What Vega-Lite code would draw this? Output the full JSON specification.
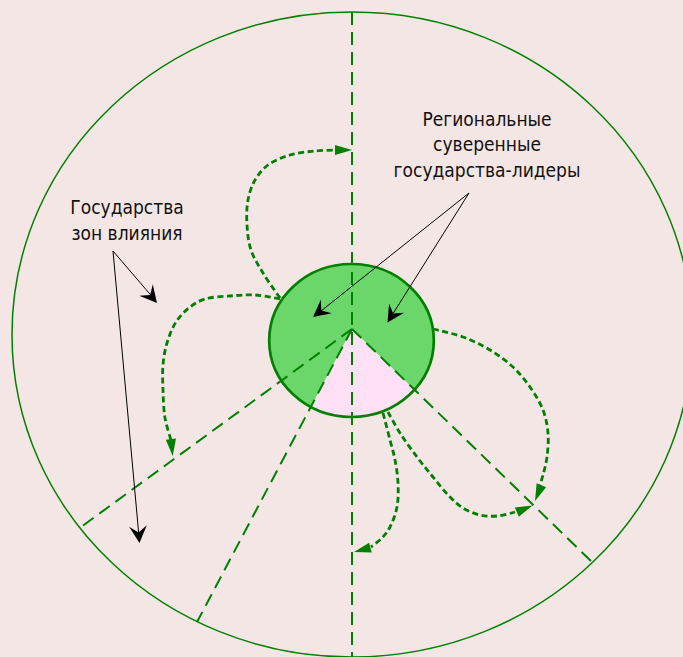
{
  "$schema": "https://vega.github.io/schema/vega-lite/v6.json",
  "width": 683,
  "height": 657,
  "autosize": "none",
  "padding": 0,
  "background": "#f5e6e6",
  "config": {"view": {"stroke": null}},
  "datasets": {
    "big": [{"x": 352, "y": 334.5}],
    "core": [{"x": 351.5, "y": 340.5}],
    "apex": [{"x": 352, "y": 329}],
    "rays": [
      {"id": "v", "i": 0, "x": 352, "y": 12}, {"id": "v", "i": 1, "x": 352, "y": 660},
      {"id": "l", "i": 0, "x": 352, "y": 329}, {"id": "l", "i": 1, "x": 81, "y": 527},
      {"id": "bl", "i": 0, "x": 352, "y": 329}, {"id": "bl", "i": 1, "x": 197, "y": 622},
      {"id": "r", "i": 0, "x": 352, "y": 329}, {"id": "r", "i": 1, "x": 593, "y": 563}
    ],
    "curves": [
      {"id": "a", "i": 0, "x": 280, "y": 298}, {"id": "a", "i": 1, "x": 263, "y": 273}, {"id": "a", "i": 2, "x": 251, "y": 250},
      {"id": "a", "i": 3, "x": 247, "y": 225}, {"id": "a", "i": 4, "x": 248, "y": 200}, {"id": "a", "i": 5, "x": 255, "y": 180},
      {"id": "a", "i": 6, "x": 268, "y": 165}, {"id": "a", "i": 7, "x": 290, "y": 155}, {"id": "a", "i": 8, "x": 315, "y": 151},
      {"id": "a", "i": 9, "x": 337, "y": 150},
      {"id": "b", "i": 0, "x": 280, "y": 299}, {"id": "b", "i": 1, "x": 255, "y": 295}, {"id": "b", "i": 2, "x": 230, "y": 296},
      {"id": "b", "i": 3, "x": 205, "y": 299}, {"id": "b", "i": 4, "x": 190, "y": 307}, {"id": "b", "i": 5, "x": 176, "y": 322},
      {"id": "b", "i": 6, "x": 167, "y": 343}, {"id": "b", "i": 7, "x": 163, "y": 365}, {"id": "b", "i": 8, "x": 163, "y": 390},
      {"id": "b", "i": 9, "x": 165, "y": 418}, {"id": "b", "i": 10, "x": 171, "y": 440},
      {"id": "c", "i": 0, "x": 433, "y": 329}, {"id": "c", "i": 1, "x": 463, "y": 337}, {"id": "c", "i": 2, "x": 490, "y": 350},
      {"id": "c", "i": 3, "x": 513, "y": 367}, {"id": "c", "i": 4, "x": 530, "y": 387}, {"id": "c", "i": 5, "x": 543, "y": 410},
      {"id": "c", "i": 6, "x": 548, "y": 433}, {"id": "c", "i": 7, "x": 547, "y": 457}, {"id": "c", "i": 8, "x": 543, "y": 475},
      {"id": "c", "i": 9, "x": 539, "y": 488},
      {"id": "d", "i": 0, "x": 388, "y": 412}, {"id": "d", "i": 1, "x": 400, "y": 433}, {"id": "d", "i": 2, "x": 417, "y": 457},
      {"id": "d", "i": 3, "x": 433, "y": 477}, {"id": "d", "i": 4, "x": 450, "y": 497}, {"id": "d", "i": 5, "x": 463, "y": 508},
      {"id": "d", "i": 6, "x": 480, "y": 515}, {"id": "d", "i": 7, "x": 497, "y": 516}, {"id": "d", "i": 8, "x": 515, "y": 512},
      {"id": "e", "i": 0, "x": 383, "y": 413}, {"id": "e", "i": 1, "x": 390, "y": 440}, {"id": "e", "i": 2, "x": 395, "y": 460},
      {"id": "e", "i": 3, "x": 398, "y": 483}, {"id": "e", "i": 4, "x": 397, "y": 507}, {"id": "e", "i": 5, "x": 390, "y": 527},
      {"id": "e", "i": 6, "x": 382, "y": 538}, {"id": "e", "i": 7, "x": 371, "y": 547}
    ],
    "gheads": [
      {"x": 352, "y": 150, "angle": 90},
      {"x": 172.7, "y": 456, "angle": 174},
      {"x": 535, "y": 501, "angle": 202},
      {"x": 532.5, "y": 505.5, "angle": 67},
      {"x": 354, "y": 552, "angle": 255}
    ],
    "blines": [
      {"id": 1, "i": 0, "x": 113, "y": 251}, {"id": 1, "i": 1, "x": 155, "y": 300},
      {"id": 2, "i": 0, "x": 113, "y": 251}, {"id": 2, "i": 1, "x": 139.3, "y": 540},
      {"id": 3, "i": 0, "x": 469, "y": 193}, {"id": 3, "i": 1, "x": 316, "y": 315},
      {"id": 4, "i": 0, "x": 469, "y": 193}, {"id": 4, "i": 1, "x": 389, "y": 320}
    ],
    "bheads": [
      {"x": 157, "y": 303, "angle": 139.8},
      {"x": 139.5, "y": 543, "angle": 174.8},
      {"x": 313, "y": 317, "angle": 231.5},
      {"x": 387.5, "y": 322.5, "angle": 212.2}
    ],
    "labels": [
      {"text": "Региональные", "x": 487, "y": 125.7},
      {"text": "суверенные", "x": 487, "y": 151.2},
      {"text": "государства-лидеры", "x": 487, "y": 176.7},
      {"text": "Государства", "x": 127, "y": 214.3},
      {"text": "зон влияния", "x": 127, "y": 239.5}
    ]
  },
  "encoding": {
    "x": {"field": "x", "type": "quantitative", "scale": {"domain": [0, 683], "nice": false, "zero": false}, "axis": null},
    "y": {"field": "y", "type": "quantitative", "scale": {"domain": [0, 657], "nice": false, "zero": false, "reverse": true}, "axis": null}
  },
  "layer": [
    {
      "data": {"name": "big"},
      "mark": {"type": "point", "shape": "M-1,0A1,0.9485,0,1,0,1,0A1,0.9485,0,1,0,-1,0Z", "size": 462400, "filled": false, "stroke": "#008000", "strokeWidth": 1.5, "opacity": 1, "clip": true}
    },
    {
      "data": {"name": "core"},
      "mark": {"type": "point", "shape": "M-1,0A1,0.9295,0,1,0,1,0A1,0.9295,0,1,0,-1,0Z", "size": 27093, "filled": true, "fill": "#6bd76b", "opacity": 1, "strokeWidth": 0}
    },
    {
      "data": {"name": "apex"},
      "mark": {"type": "arc", "outerRadius": 88, "innerRadius": 0, "theta": 2.342, "theta2": 3.629, "fill": "#ffe0f5", "stroke": null}
    },
    {
      "data": {"name": "rays"},
      "mark": {"type": "line", "color": "#008000", "strokeWidth": 2, "strokeDash": [13, 7], "clip": true},
      "encoding": {"detail": {"field": "id"}, "order": {"field": "i", "type": "quantitative"}}
    },
    {
      "data": {"name": "core"},
      "mark": {"type": "point", "shape": "M-1,0A1,0.9295,0,1,0,1,0A1,0.9295,0,1,0,-1,0Z", "size": 27093, "filled": false, "stroke": "#008000", "strokeWidth": 2.7, "opacity": 1}
    },
    {
      "data": {"name": "curves"},
      "mark": {"type": "line", "color": "#008000", "strokeWidth": 2.8, "strokeDash": [6, 3.5], "interpolate": "catmull-rom"},
      "encoding": {"detail": {"field": "id"}, "order": {"field": "i", "type": "quantitative"}}
    },
    {
      "data": {"name": "gheads"},
      "mark": {"type": "point", "shape": "M0,0L0.6,2L-0.6,2Z", "size": 289, "filled": true, "fill": "#008000", "opacity": 1, "strokeWidth": 0},
      "encoding": {"angle": {"field": "angle", "type": "quantitative", "scale": {"domain": [0, 360], "range": [0, 360]}}}
    },
    {
      "data": {"name": "blines"},
      "mark": {"type": "line", "color": "#000000", "strokeWidth": 1},
      "encoding": {"detail": {"field": "id"}, "order": {"field": "i", "type": "quantitative"}}
    },
    {
      "data": {"name": "bheads"},
      "mark": {"type": "point", "shape": "M0,0L1.04,2L0,1.25L-1.04,2Z", "size": 289, "filled": true, "fill": "#000000", "opacity": 1, "strokeWidth": 0},
      "encoding": {"angle": {"field": "angle", "type": "quantitative", "scale": {"domain": [0, 360], "range": [0, 360]}}}
    },
    {
      "data": {"name": "labels"},
      "mark": {"type": "text", "font": "DejaVu Sans Condensed, Liberation Sans, sans-serif", "fontSize": 19, "align": "center", "baseline": "alphabetic", "color": "#111111"},
      "encoding": {"text": {"field": "text"}}
    }
  ]
}
